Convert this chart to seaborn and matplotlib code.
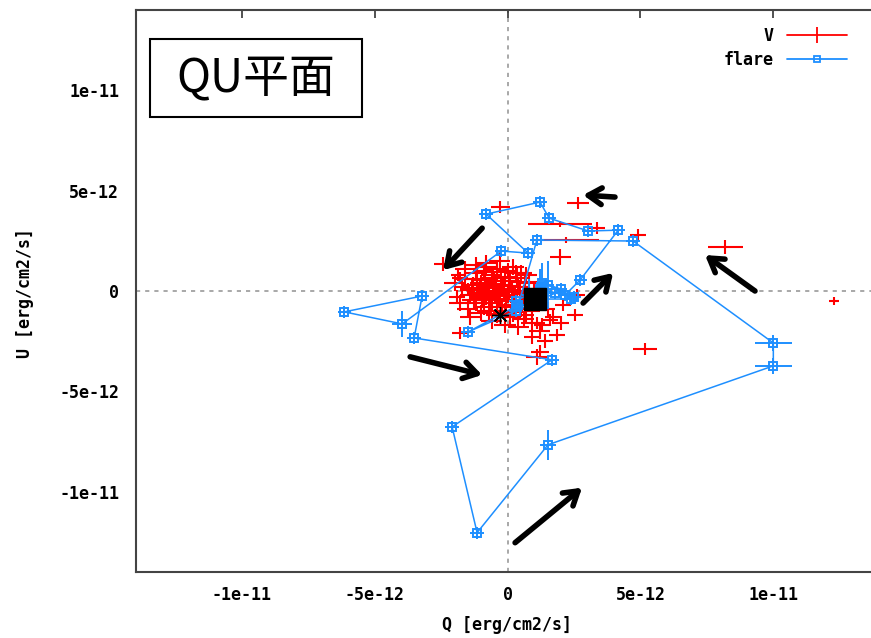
import numpy as np
import pandas as pd
import matplotlib
matplotlib.use("Agg")
import matplotlib.pyplot as plt
from matplotlib.lines import Line2D
from matplotlib.patches import Rectangle
import seaborn as sns

sns.set_theme(style="white")
plt.rcParams['font.family'] = ['DejaVu Sans Mono', 'Noto Sans CJK JP']
plt.rcParams['text.color'] = 'black'
plt.rcParams['xtick.color'] = 'black'
plt.rcParams['ytick.color'] = 'black'

# ---- data (units of 1e-12 erg/cm2/s) ----
# flare path (time ordered)
flare_q = [0.3, 1.2, 2.16, 2.73, 4.16, 3.03, 1.56, 1.22, -0.81, 0.77, -0.24, -3.97, -6.15,
           -3.22, -3.52, 1.67, -2.09, -1.15, 1.52, 10.0, 10.0, 4.72, 1.1, 0.4, -1.49, 0.3,
           1.8, 2.5, 1.5, 0.8, 1.3, 2.0, 2.4, 1.0]
flare_u = [-0.5, 0.1, -0.2, 0.55, 3.03, 2.99, 3.63, 4.43, 3.83, 1.89, 1.99, -1.64, -1.04,
           -0.25, -2.34, -3.43, -6.77, -12.04, -7.66, -3.73, -2.59, 2.49, 2.54, -0.7, -2.04, -1.0,
           -0.1, -0.3, 0.3, -0.2, 0.4, 0.1, -0.4, -0.4]
flare_qerr = [0.25, 0.25, 0.25, 0.25, 0.25, 0.25, 0.25, 0.25, 0.25, 0.25, 0.25, 0.38, 0.25,
              0.25, 0.25, 0.25, 0.25, 0.25, 0.3, 0.7, 0.7, 0.25, 0.25, 0.25, 0.25, 0.25,
              0.25, 0.25, 0.25, 0.25, 0.25, 0.25, 0.25, 0.25]
flare_uerr = [0.3, 1.0, 0.3, 0.3, 0.3, 0.3, 0.3, 0.3, 0.3, 0.3, 0.3, 0.65, 0.3,
              0.3, 0.3, 0.3, 0.3, 0.3, 0.75, 0.4, 0.4, 0.3, 0.3, 0.3, 0.3, 0.3,
              0.3, 0.3, 1.2, 0.8, 1.0, 0.3, 0.3, 0.3]

# V points: outliers first, then the central cluster
v_q = [12.28, 8.19, 5.17, 4.9, 2.65, -0.28, -2.43, -1.8, -1.5, 1.22, 1.1, 1.98, 1.98, 2.2,
       3.37, -1.85, -1.79, 1.86, 1.6, 2.54, 1.1, 2.1, 2.6,
       -1.2, -0.9, -0.6, -0.4, -0.1, -1.3, -1.0, -0.7, -0.5, -0.2, 0.1, 0.4,
       -1.4, -1.1, -0.8, -0.5, -0.3, 0.0, 0.3, 0.6, -1.2, -0.9, -0.6, -0.2, 0.2, 0.5,
       -1.0, -0.4, 0.1, 0.6, 0.9, -0.8, -0.3, 0.2, 0.5, -1.6, -1.5, 0.8, 1.0, 0.8,
       -0.6, 1.2, 0.4, -0.1,
       -1.35, -1.05, -0.75, -0.45, -0.15, 0.15, 0.45, -1.25, -0.95, -0.65, -0.35, -0.05,
       0.25, 0.55, -1.15, -0.85, -0.55, -0.25, 0.05, 0.35, 0.65, -0.7, -0.4, -0.1, 0.2,
       -1.7, -1.9, 0.9, 0.7, 1.3, 1.5, 1.7, 2.0, 0.9, 1.4,
       -1.6, -1.2, -0.8, -0.4, 0.0, -2.0, -1.8, -1.4, 0.3, 0.7, -0.9, -0.5]
v_u = [-0.50, 2.19, -2.89, 2.8, 4.38, 4.18, 1.34, 0.65, 0.1, -3.03, -3.3, 3.33, 1.7, 2.54,
       3.13, 0.8, -2.09, -2.19, -1.44, -1.19, -1.6, -0.7, -0.2,
       0.9, 1.0, 0.8, 1.1, 0.7, 0.3, 0.4, 0.2, 0.5, 0.3, 0.5, 0.2,
       -0.2, -0.1, -0.3, -0.1, -0.4, -0.2, -0.3, -0.1, -0.6, -0.8, -0.6, -0.8, -0.7, -0.9,
       -1.1, -1.2, -1.3, -1.4, -1.6, 1.4, 1.5, 1.2, 0.9, 0.6, -0.9, 0.4, 0.0, -0.6,
       -1.5, -2.0, -1.8, -1.7,
       0.05, 0.15, 0.0, 0.25, 0.1, 0.0, -0.05, -0.45, -0.35, -0.45, -0.25, -0.5,
       -0.45, -0.55, 0.6, 0.55, 0.65, 0.5, 0.25, 0.65, 0.45, -1.0, -1.0, -1.1, -1.05,
       0.2, -0.3, -1.0, -1.2, -1.7, -0.9, -1.3, -1.6, -2.3, -2.5,
       1.1, 1.3, 1.2, 0.95, 1.0, 0.4, -0.6, -1.3, 0.9, 0.8, -0.2, 0.35]
v_qerr = ([0.2, 0.65, 0.44, 0.3, 0.4, 0.35, 0.35, 0.3, 0.3, 0.35, 0.4, 1.2, 0.4, 1.25,
           0.3, 0.3, 0.3, 0.3, 0.3, 0.3, 0.3, 0.3, 0.3] + [0.4] * 44 + [0.45] * 25
          + [0.3] * 10 + [0.4] * 12)
v_uerr = ([0.2, 0.37, 0.3, 0.3, 0.3, 0.3, 0.35, 0.3, 0.3, 0.35, 0.4, 0.15, 0.4, 0.15,
           0.3, 0.3, 0.3, 0.3, 0.3, 0.3, 0.3, 0.3, 0.3] + [0.4] * 44 + [0.5] * 25
          + [0.35] * 10 + [0.4] * 12)

end_q, end_u = [1.02], [-0.42]      # black square
start_q, start_u = [-0.28], [-1.19]  # black asterisk

# direction arrows (tail -> head), data coords
arrow_tails = [(4.04, 4.68), (-0.96, 3.13), (2.84, -0.6), (9.31, 0.0), (-3.67, -3.28), (0.28, -12.54)]
arrow_heads = [(2.84, 4.78), (-2.43, 1.04), (3.97, 0.9), (7.43, 1.79), (-0.96, -4.18), (2.80, -9.80)]

xticks = [-10, -5, 0, 5, 10]
xtick_labels = ['-1e-11', '-5e-12', '0', '5e-12', '1e-11']
yticks = [-10, -5, 0, 5, 10]
ytick_labels = ['-1e-11', '-5e-12', '0', '5e-12', '1e-11']

RED = '#ff0000'
BLUE = '#1e8fff'

W, H = 871, 638
fig = plt.figure(figsize=(W / 100, H / 100), dpi=100)
ax = fig.add_axes([135.7 / W, 1 - 572 / H, (879.6 - 135.7) / W, 562 / H])
ax.set_facecolor('white')

ax.axhline(0, color='#9a9a9a', ls=(0, (2.5, 3)), lw=1.2, zorder=0)
ax.axvline(0, color='#9a9a9a', ls=(0, (2.5, 3)), lw=1.2, zorder=0)

# V points with error bars
ax.errorbar(v_q, v_u, xerr=v_qerr, yerr=v_uerr, fmt='none', ecolor=RED, elinewidth=1.5, zorder=2)

# flare path
df = pd.DataFrame({'Q': flare_q, 'U': flare_u})
sns.lineplot(data=df, x='Q', y='U', sort=False, estimator=None, color=BLUE, lw=1.1, ax=ax, zorder=3)
ax.errorbar(flare_q, flare_u, xerr=flare_qerr, yerr=flare_uerr, fmt='none', ecolor=BLUE,
            elinewidth=1.4, zorder=3)
ax.plot(flare_q, flare_u, ls='none', marker='s', ms=6, mfc='none', mec=BLUE, mew=1.4, zorder=4)

ax.plot(end_q, end_u, ls='none', marker='s', ms=16, color='black', zorder=5)
ax.plot(start_q, start_u, ls='none', marker=(8, 2, 0), ms=12, mec='black', mew=1.0, zorder=5)

for t, h in zip(arrow_tails, arrow_heads):
    ax.annotate('', xy=h, xytext=t,
                arrowprops=dict(arrowstyle='->,head_length=0.8,head_width=0.5', lw=4.0,
                                color='black', shrinkA=0, shrinkB=0), zorder=6)

ax.set_xlim(-14, 14)
ax.set_ylim(-14, 14)
ax.set_xticks(xticks)
ax.set_xticklabels(xtick_labels)
ax.set_yticks(yticks)
ax.set_yticklabels(ytick_labels)
ax.tick_params(direction='in', length=6, width=1.2, color='#333333', top=True, right=True,
               labelsize=12, pad=10, labelcolor='black')
ax.tick_params(axis='y', pad=12)
for lab in ax.get_xticklabels() + ax.get_yticklabels():
    lab.set_fontweight('bold')
for s in ax.spines.values():
    s.set_color('#444444')
    s.set_linewidth(1.5)
ax.set_xlabel('')
ax.set_ylabel('')

fig.text(507 / W, 1 - 625 / H, 'Q [erg/cm2/s]', ha='center', va='center', fontsize=12,
         fontweight='bold', color='black')
fig.text(25 / W, 1 - 293 / H, 'U [erg/cm2/s]', ha='center', va='center', fontsize=12,
         fontweight='bold', rotation=90, color='black')

# title box
fig.patches.append(Rectangle((150 / W, 1 - 117 / H), 212 / W, 78 / H, transform=fig.transFigure,
                             fill=True, facecolor='white', edgecolor='black', lw=1.5, zorder=10))
fig.text(256 / W, 1 - 78 / H, 'QU平面', ha='center', va='center', fontsize=33, color='black',
         family=['Noto Sans CJK JP', 'DejaVu Sans'], zorder=11)

handles = [Line2D([], [], color=RED, marker='|', ms=11, mew=1.3, lw=1.3),
           Line2D([], [], color=BLUE, marker='s', ms=5, mfc='none', mew=1.3, lw=1.3)]
fig.legend(handles, ['V', 'flare'], loc='upper right', bbox_to_anchor=(862 / W, 1 - 12 / H),
           frameon=False, markerfirst=False, handlelength=3.6, handletextpad=0.8,
           labelspacing=0.35, labelcolor='black',
           prop={'weight': 'bold', 'size': 12, 'family': 'DejaVu Sans Mono'})

fig.savefig('out.png', dpi=100)
